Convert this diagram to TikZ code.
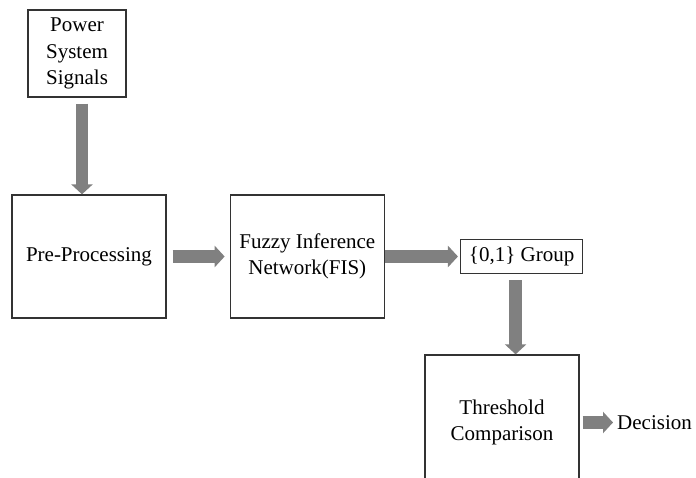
\documentclass[tikz,border=0pt]{standalone}
\usepackage{fontspec}
\setmainfont{Liberation Serif}
\usetikzlibrary{arrows.meta, positioning}

\begin{document}
\begin{tikzpicture}[
    x=1pt, y=-1pt,
    node distance=63pt,
    block/.style = {rectangle, draw=black!80, line width=1.3pt, align=center, inner sep=2pt, font=\rmfamily\fontsize{21}{26.5}\selectfont},
    plain/.style = {align=center, inner sep=0pt, font=\rmfamily\fontsize{21}{26.5}\selectfont},
    blk/.style   = {draw=black!50, line width=12.5pt, -{Triangle[length=10pt, width=21pt]}}
]
\useasboundingbox (0,0) rectangle (696,478);

% --- blocks ---
\node[block, minimum width=98pt, minimum height=87pt] (power) at (77,53.5) {Power\\System\\Signals};
\node[block, minimum width=154pt, minimum height=123pt] (pre) at (89,256.5) {Pre-Processing};
\node[block, minimum width=154pt, minimum height=123pt, right=63pt of pre] (fis) {Fuzzy Inference\\Network(FIS)};
\node[block, minimum width=122pt, minimum height=34pt, right=75pt of fis] (grp) {\{0,1\} Group};
\node[block, minimum width=154pt, minimum height=135pt] (thr) at (502,422.5) {Threshold\\Comparison};
\node[plain, anchor=west] (dec) at (617,422.5) {Decision};

% --- arrows ---
\draw[blk, shorten <=6pt] ([xshift=5pt]power.south) -- ([xshift=5pt]power.south |- pre.north);
\draw[blk, shorten <=6pt, shorten >=5pt] (pre.east) -- (fis.west);
\draw[blk, shorten >=2pt] (fis.east) -- (grp.west);
\draw[blk, shorten <=6pt] ([xshift=-6pt]grp.south) -- ([xshift=-6pt]grp.south |- thr.north);
\draw[blk, shorten <=3pt, shorten >=4pt] (thr.east) -- (dec.west);

\end{tikzpicture}
\end{document}
